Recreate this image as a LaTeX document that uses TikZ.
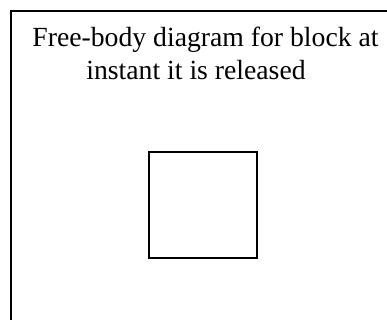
\documentclass[tikz,border=0pt]{standalone}
\usepackage{fontspec}
\setmainfont{Liberation Serif}
\tikzset{
  frameline/.style={line width=1.4pt},
  blockbox/.style={draw, line width=2.6pt, minimum width=108pt, minimum height=106pt, inner sep=0pt},
  titletext/.style={font=\fontsize{27.7}{31}\selectfont, anchor=base, inner sep=0pt}
}
\begin{document}
\begin{tikzpicture}[x=1pt,y=-1pt]
\useasboundingbox (0,0) rectangle (387,320);
\coordinate (fbl) at (11,320);
\coordinate (ftl) at (11,11);
\coordinate (ftr) at (387,11);
\draw[frameline] (fbl) -- (ftl) -- (ftr);
\node[titletext] (t1) at (205.5,47) {Free-body diagram for block at};
\node[titletext] (t2) at (196,80) {instant it is released};
\node[blockbox] (block) at (203,205) {};
\end{tikzpicture}
\end{document}
